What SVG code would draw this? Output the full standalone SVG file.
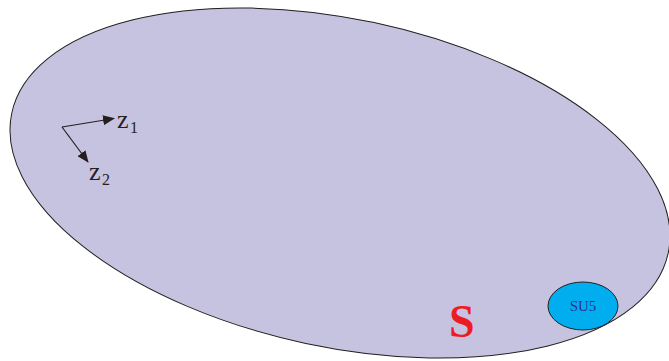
<svg xmlns="http://www.w3.org/2000/svg" width="669" height="361" viewBox="0 0 669 361">
<style>
text{font-family:"Liberation Serif","Times New Roman",serif}
.lbl{fill:#231f20}
.ax{stroke:#231f20;stroke-width:1.2;fill:none}
</style>
<defs>
<marker id="ah" markerWidth="12" markerHeight="10" refX="11" refY="5" orient="auto" markerUnits="userSpaceOnUse">
<path d="M0,0 L12,5 L0,10 Z" fill="#231f20"/>
</marker>
</defs>
<rect width="669" height="361" fill="#fff"/>
<g id="S">
<ellipse cx="340" cy="183" rx="335.6" ry="164" transform="rotate(12.04 340 183)" fill="#c6c3e0" stroke="#231f20" stroke-width="1"/>
<text x="449" y="337" font-weight="bold" font-size="46" fill="#ed1c24">S</text>
</g>
<g id="SU5">
<ellipse cx="583" cy="306" rx="35" ry="24" fill="#00aeef" stroke="#231f20" stroke-width="1"/>
<text x="583" y="311" text-anchor="middle" font-size="15" fill="#2e3192">SU5</text>
</g>
<g id="connectors">
<line class="ax" x1="62" y1="127" x2="114" y2="118.5" marker-end="url(#ah)"/>
<line class="ax" x1="62" y1="127" x2="88" y2="162" marker-end="url(#ah)"/>
</g>
<g id="labels">
<text class="lbl" x="117" y="128" font-size="26">z</text>
<text class="lbl" x="130" y="133" font-size="16">1</text>
<text class="lbl" x="89" y="180" font-size="26">z</text>
<text class="lbl" x="102" y="185" font-size="16">2</text>
</g>
</svg>
